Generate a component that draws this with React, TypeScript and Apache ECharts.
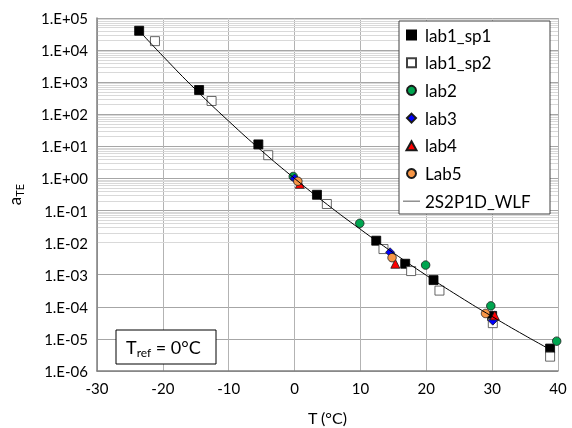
import React, { useEffect, useRef } from "react";
import * as echarts from "echarts";

const FONT = "Lato";

const lab1Sp1: [number, number][] = [
  [-23.6, 4.0e4], [-14.5, 570], [-5.5, 11.5], [3.4, 0.31], [12.4, 0.0115],
  [16.8, 0.0022], [21.1, 0.00068], [30.0, 5.2e-5], [38.8, 5.0e-6],
];
const lab1Sp2: [number, number][] = [
  [-21.2, 1.9e4], [-12.6, 260], [-4.0, 5.3], [4.9, 0.16], [13.5, 0.0063],
  [17.7, 0.0013], [22.0, 0.00032], [30.1, 3.1e-5], [38.8, 2.8e-6],
];
const lab2: [number, number][] = [
  [-0.2, 1.15], [9.9, 0.04], [19.9, 0.002], [29.8, 1.07e-4], [39.8, 8.5e-6],
];
const lab3: [number, number][] = [[0.0, 1.0], [14.5, 0.005], [30.1, 3.7e-5]];
const lab4: [number, number][] = [[0.8, 0.68], [15.3, 0.0022], [30.4, 5.4e-5]];
const lab5: [number, number][] = [[0.5, 0.82], [14.8, 0.0034], [29.0, 6.2e-5]];
const wlf: [number, number][] = [
  [-23.6, 4.0e4], [-20, 6.5e3], [-15, 580], [-10, 61], [-5, 7.3], [0, 1.0],
  [5, 0.152], [10, 0.026], [15, 0.0048], [20, 9.6e-4], [25, 2.1e-4],
  [30, 5.0e-5], [35, 1.27e-5], [39.5, 3.9e-6],
];

// decade exponents of the y axis (1.E-06 ... 1.E+05)
const yExpMin = -6;
const yExpMax = 5;
const decades = [-6, -5, -4, -3, -2, -1, 0, 1, 2, 3, 4];
const minorMultipliers = [2, 3, 4, 5, 6, 7, 8, 9];
const minorValues: number[] = [];
decades.forEach((e) =>
  minorMultipliers.forEach((m) =>
    minorValues.push(Number((m * Math.pow(10, e)).toPrecision(3)))
  )
);

function fmtExp(e: number): string {
  const r = Math.round(e);
  const a = Math.abs(r);
  return "1.E" + (r >= 0 ? "+" : "-") + (a < 10 ? "0" + a : "" + a);
}

const ICON_SQUARE = "path://M0,0L10,0L10,10L0,10Z";
const ICON_DIAMOND = "path://M5,0L10,5L5,10L0,5Z";
const ICON_TRIANGLE = "path://M5,0L10,9L0,9Z";
const ICON_LINE = "path://M0,0L17,0L17,1.3L0,1.3Z";

export default function App() {
  const ref = useRef<HTMLDivElement>(null);
  useEffect(() => {
    if (!ref.current) return;
    const chart = echarts.init(ref.current, null, { renderer: "svg" });
    const scatter = (
      name: string,
      data: [number, number][],
      symbol: string,
      size: number,
      color: string,
      border: string
    ) => ({
      name,
      type: "scatter",
      data,
      symbol,
      symbolSize: size,
      z: 3,
      itemStyle: { color, borderColor: border, borderWidth: 0.8, opacity: 1 },
    });
    chart.setOption({
      animation: false,
      textStyle: { fontFamily: FONT },
      grid: { left: 97, right: 14, top: 18, bottom: 57, outerBoundsMode: "none", containLabel: false },
      xAxis: {
        type: "value",
        min: -30,
        max: 40,
        interval: 10,
        name: "T (°C)",
        nameLocation: "middle",
        nameGap: 38,
        nameTextStyle: { fontFamily: FONT, fontSize: 16, color: "#000" },
        axisLine: { show: true, onZero: false, lineStyle: { color: "#7f7f7f", width: 1.5 } },
        axisTick: { show: false },
        axisLabel: { fontFamily: FONT, fontSize: 15, color: "#000", margin: 9 },
        splitLine: { show: true, lineStyle: { color: "#b3b3b3", width: 1 } },
      },
      yAxis: [
        {
          type: "log",
          logBase: 10,
          min: Math.pow(10, yExpMin),
          max: Math.pow(10, yExpMax),
          name: "{a|a}{s|TE}",
          nameLocation: "middle",
          nameGap: 72,
          nameRotate: 90,
          nameTextStyle: {
            rich: {
              a: { fontFamily: FONT, fontSize: 17, color: "#000", lineHeight: 22, verticalAlign: "middle" },
              s: { fontFamily: FONT, fontSize: 11, color: "#000", lineHeight: 12, verticalAlign: "bottom" },
            },
          },
          axisLine: { show: true, onZero: false, lineStyle: { color: "#7f7f7f", width: 1.5 } },
          axisTick: { show: false },
          axisLabel: { show: false },
          splitLine: { show: false },
          z: 3,
        },
        {
          type: "value",
          position: "left",
          min: yExpMin,
          max: yExpMax,
          interval: 1,
          axisLine: { show: false },
          axisTick: { show: false },
          axisLabel: { fontFamily: FONT, fontSize: 15, color: "#000", margin: 9, formatter: fmtExp },
          splitLine: { show: true, lineStyle: { color: "#a6a6a6", width: 1 } },
        },
      ],
      legend: {
        data: [
          { name: "lab1_sp1", icon: ICON_SQUARE },
          { name: "lab1_sp2", icon: ICON_SQUARE },
          { name: "lab2", icon: "circle" },
          { name: "lab3", icon: ICON_DIAMOND },
          { name: "lab4", icon: ICON_TRIANGLE },
          { name: "Lab5", icon: "circle" },
          { name: "2S2P1D_WLF", icon: ICON_LINE, itemStyle: { color: "#7f7f7f", borderWidth: 0 } },
        ],
        orient: "vertical",
        left: 400,
        top: 21,
        padding: [5, 5, 4, 3],
        itemWidth: 17,
        itemHeight: 9,
        itemGap: 9.7,
        symbolKeepAspect: true,
        z: 60,
        textStyle: { fontFamily: FONT, fontSize: 17, color: "#000", lineHeight: 18 },
      },
      graphic: [
        {
          type: "rect",
          z: 50,
          shape: { x: 399, y: 21, width: 151, height: 193 },
          style: { fill: "#fff", stroke: "#404040", lineWidth: 1 },
        },
        {
          type: "rect",
          z: 50,
          shape: { x: 116, y: 330, width: 100, height: 34 },
          style: { fill: "#fff", stroke: "#000", lineWidth: 1 },
        },
        {
          type: "text",
          z: 51,
          x: 126,
          y: 347,
          style: {
            text: "{t|T}{s|ref}{t| = 0°C}",
            verticalAlign: "middle",
            rich: {
              t: { fontFamily: FONT, fontSize: 18, fill: "#000", lineHeight: 23, verticalAlign: "middle" },
              s: { fontFamily: FONT, fontSize: 12, fill: "#000", lineHeight: 13, verticalAlign: "bottom" },
            },
          },
        },
      ],
      series: [
        {
          type: "line",
          data: [],
          z: 1,
          silent: true,
          markLine: {
            silent: true,
            z: 1,
            symbol: ["none", "none"],
            label: { show: false },
            lineStyle: { color: "#d9d9d9", type: "solid", width: 1 },
            emphasis: { disabled: true },
            data: minorValues.map((v) => ({ yAxis: v })),
          },
        },
        scatter("lab1_sp1", lab1Sp1, "rect", 9, "#000000", "#000000"),
        scatter("lab1_sp2", lab1Sp2, "rect", 9, "#ffffff", "#404040"),
        scatter("lab2", lab2, "circle", 8.5, "#00a550", "#1a1a1a"),
        scatter("lab3", lab3, "diamond", 9, "#0000ff", "#1a1a1a"),
        scatter("lab4", lab4, "triangle", 9, "#ff0000", "#1a1a1a"),
        scatter("Lab5", lab5, "circle", 8.5, "#f79646", "#1a1a1a"),
        {
          name: "2S2P1D_WLF",
          type: "line",
          data: wlf,
          smooth: true,
          symbol: "none",
          z: 4,
          lineStyle: { color: "#000", width: 1 },
          itemStyle: { color: "#000" },
        },
      ],
    });
    return () => chart.dispose();
  }, []);
  return (
    <div
      ref={ref}
      style={{ position: "fixed", left: 0, top: 0, width: 572, height: 428 }}
    />
  );
}
